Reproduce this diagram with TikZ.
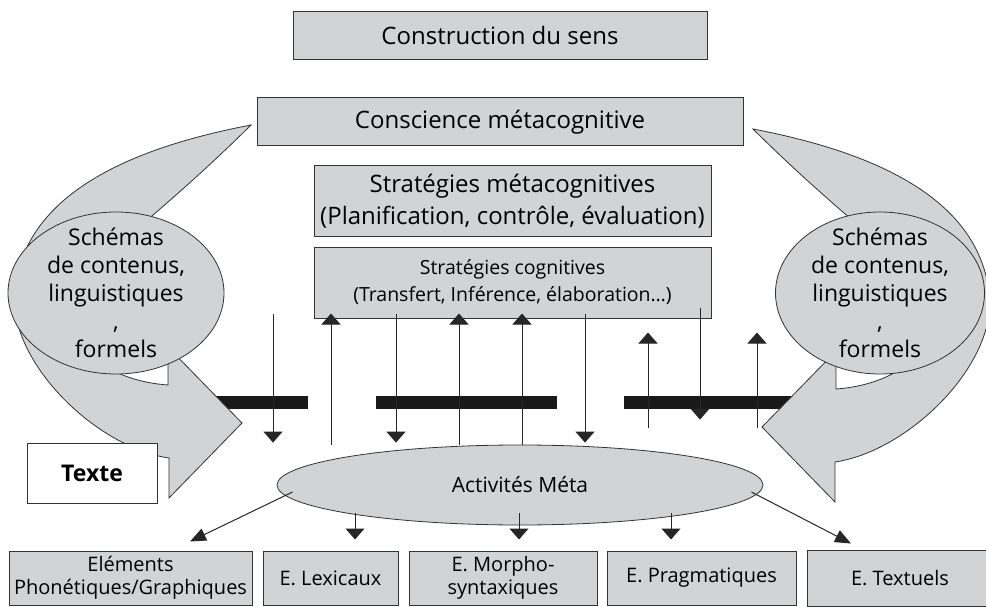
\documentclass[tikz,border=0pt]{standalone}
\usepackage{fontspec}
\setmainfont{Open Sans}
\usepackage{xcolor}
\usepackage{tikz}
\usetikzlibrary{shapes,arrows.meta,positioning,calc}
\definecolor{fond}{RGB}{209,211,212}
\definecolor{trait}{RGB}{51,51,51}
\tikzset{
  boite/.style={draw=trait, fill=fond, line width=1pt, inner sep=0pt, align=center},
  bulle/.style={ellipse, draw=trait, fill=fond, line width=0.8pt, inner sep=0pt, align=center},
  fl/.style={line width=1pt, draw=black!85, -{Triangle[width=19pt,length=11pt]}},
  fld/.style={line width=1pt, draw=black!85, -{Triangle[width=13pt,length=16pt]}},
  bas/.style={boite, minimum height=54pt, font=\fontsize{20}{23}\selectfont},
}

\begin{document}
\begin{tikzpicture}[x=1pt,y=-1pt]
\useasboundingbox (0,0) rectangle (986,607);

\foreach \a/\b in {190/308,376/557,624/800}
  \fill[black!90] (\a,396) rectangle (\b,409);

\foreach \s/\dx/\dy in {1/0/0,-1/1004/-4}
{
  \begin{scope}[xshift=\dx pt, yshift=\dy pt, xscale=\s]
    \filldraw[fill=fond, draw=trait, line width=0.8pt, line join=miter]
      (251,125) .. controls (120,150) and (18,200) .. (14,300)
      .. controls (16,370) and (100,448) .. (169,458) -- (169,498) -- (242,423)
      -- (168,347) -- (168,385) .. controls (100,380) and (65,340) .. (68,300)
      .. controls (90,260) and (150,225) .. (251,125) -- cycle;
  \end{scope}
}

\node[bulle, minimum width=216pt, minimum height=162pt] (schemaG) at (116,293) {};
\node[bulle, minimum width=209pt, minimum height=162pt] (schemaD) at (880,293) {};
\foreach \n in {schemaG,schemaD}
  \node[font=\fontsize{23}{28}\selectfont, align=center] (\n txt) at (\n) {Schémas\\de contenus,\\linguistiques\\,\\formels};

\node[draw=trait, fill=white, line width=1pt, minimum width=130pt, minimum height=60pt,
  font=\bfseries\fontsize{23}{28}\selectfont] (texte) at (92,473) {Texte};

\node[boite, minimum width=414pt, minimum height=48pt, font=\fontsize{24}{30}\selectfont] (sens) at (500,36) {Construction du sens};
\node[boite, minimum width=486pt, minimum height=48pt, font=\fontsize{24}{30}\selectfont] (conscience) at (500,122) {Conscience métacognitive};
\node[boite, minimum width=397pt, minimum height=70pt, font=\fontsize{24}{32}\selectfont] (strmeta) at (512.5,201) {Stratégies métacognitives\\(Planification, contrôle, évaluation)};
\node[boite, minimum width=397pt, minimum height=71pt, font=\fontsize{19.5}{27}\selectfont] (strcog) at (512.5,282.5) {Stratégies cognitives\\(Transfert, Inférence, élaboration…)};

\node[bulle, minimum width=486pt, minimum height=80pt, font=\fontsize{21}{25}\selectfont] (meta) at (520,485) {Activités Méta};

\node[bas, minimum width=243pt] (elem) at (130.5,578) {Eléments\\Phonétiques/Graphiques};
\node[bas, minimum width=135pt, right=10pt of elem] (lex) {E. Lexicaux};
\node[bas, minimum width=188pt, right=10pt of lex] (morpho) {E. Morpho-\\syntaxiques};
\node[bas, minimum width=189pt, right=9pt of morpho] (prag) {E. Pragmatiques};
\node[bas, minimum width=186pt, minimum height=56pt, right=10pt of prag] (textu) {E. Textuels};

\foreach \x in {273,396,585}
  \draw[fl, shorten <=-5pt, shorten >=2pt] (\x,0 |- strcog.south) -- (\x,0 |- meta.north);
\foreach \x in {331,459,522}
  \draw[fl, shorten >=-5pt] (\x,0 |- meta.north) -- (\x,0 |- strcog.south);
\foreach \x in {648,757}
  \draw[fl, shorten <=17pt, shorten >=14pt] (\x,0 |- meta.north) -- (\x,0 |- strcog.south);
\draw[fl, shorten <=-11pt, shorten >=25pt] (700,0 |- strcog.south) -- (700,0 |- meta.north);

\foreach \x in {355,519,671}
  \draw[fl, shorten <=-12pt, shorten >=11pt] (\x,0 |- meta.south) -- (\x,0 |- lex.north);
\draw[fld] ($(meta.west)+(16,7)$) -- ([yshift=9pt]190,0 |- elem.north);
\draw[fld] ($(meta.east)+(-12,7)$) -- ([yshift=6pt]851,0 |- textu.north);
\end{tikzpicture}
\end{document}
